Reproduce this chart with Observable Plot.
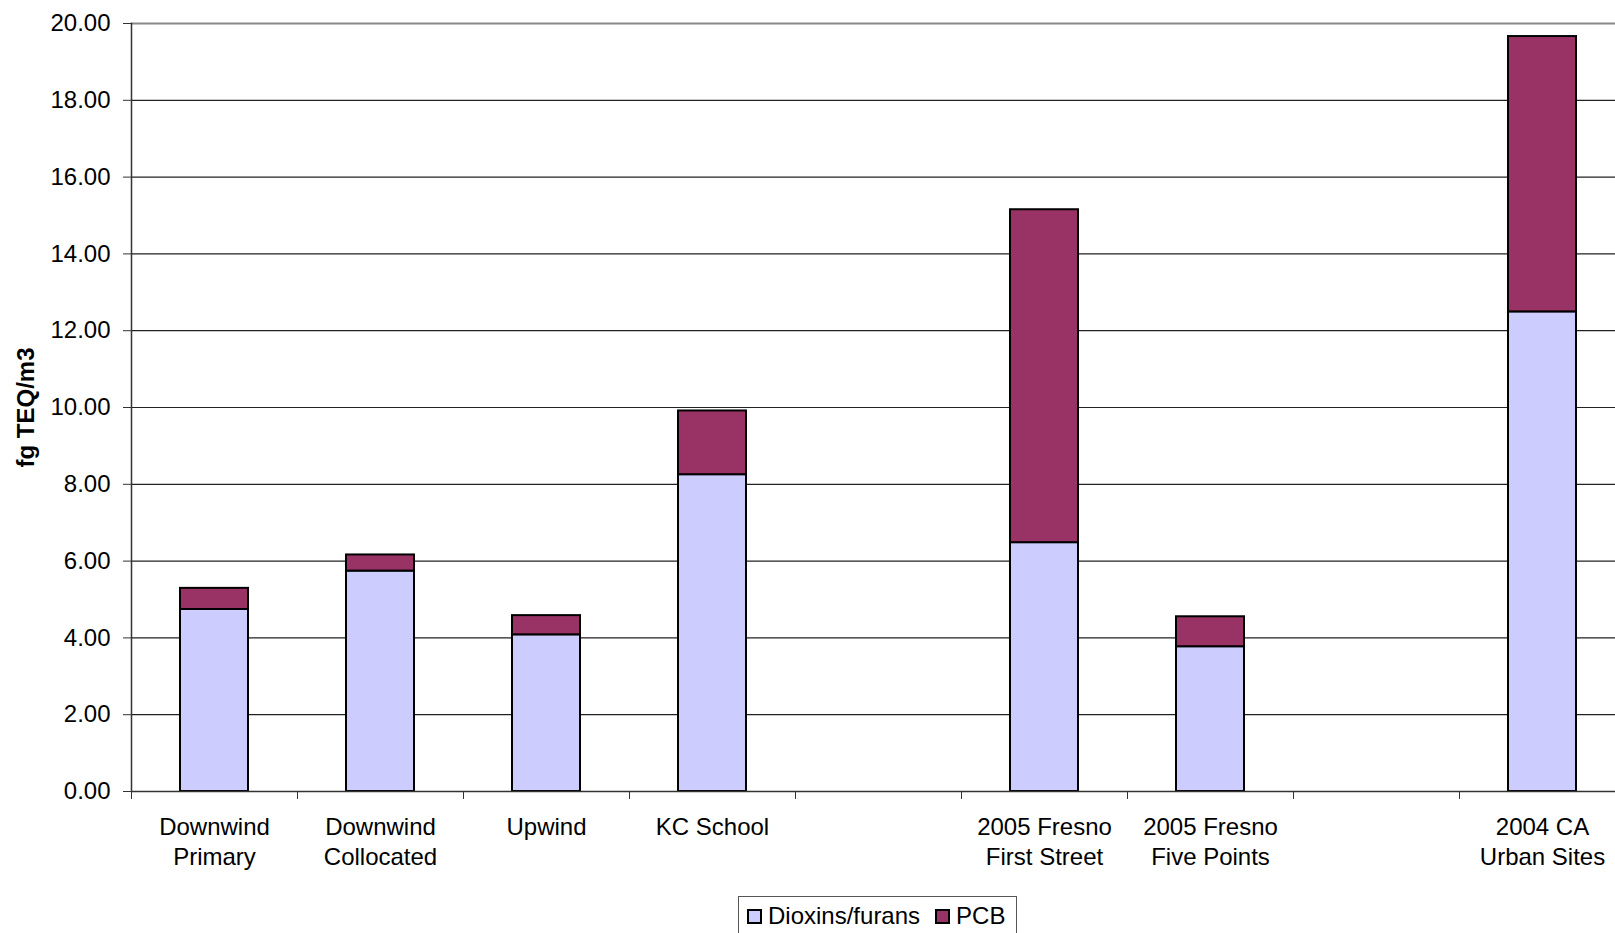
<!DOCTYPE html>
<html><head><meta charset="utf-8">
<script src="https://cdn.jsdelivr.net/npm/d3@7"></script>
<script src="https://cdn.jsdelivr.net/npm/@observablehq/plot@0.6"></script>
<style>
body{margin:0;background:#fff;overflow:hidden;font-family:"Liberation Sans",Arial,sans-serif}
#wrap{width:1615px;height:933px;overflow:hidden;position:relative}
#chart svg{max-width:none !important;display:block}
#legend{position:absolute;left:738px;top:896px;width:279px;height:42px;border:1px solid #555;box-sizing:border-box;font-size:24px;line-height:28px;color:#000;padding:5px 0 0 8px;white-space:nowrap}
.sw{width:11px;height:11px;border:2px solid #000;display:inline-block;vertical-align:baseline;margin-right:6px}
.item{display:inline;margin-right:15px}
</style></head>
<body><div id="wrap"><div id="chart"></div><div id="legend"></div></div>
<script>
const sites = ["Downwind\nPrimary", "Downwind\nCollocated", "Upwind", "KC School", "2005 Fresno\nFirst Street", "2005 Fresno\nFive Points", "2004 CA\nUrban Sites"];
const xDomain = ["Downwind\nPrimary", "Downwind\nCollocated", "Upwind", "KC School", "", "2005 Fresno\nFirst Street", "2005 Fresno\nFive Points", " ", "2004 CA\nUrban Sites"];
const dioxins = [4.74, 5.74, 4.08, 8.25, 6.48, 3.77, 12.49];
const pcb = [0.55, 0.42, 0.50, 1.66, 8.67, 0.78, 7.17];
const seriesNames = ["Dioxins/furans", "PCB"];
const seriesColors = ["#CCCCFF", "#993366"];
const yTicks = [0, 2, 4, 6, 8, 10, 12, 14, 16, 18, 20];
const yLabel = "fg TEQ/m3";

const rows = [];
sites.forEach((s, i) => {
  rows.push({site: s, series: seriesNames[0], value: dioxins[i]});
  rows.push({site: s, series: seriesNames[1], value: pcb[i]});
});

const width = 1625, height = 880, marginLeft = 131, marginRight = 0;
const step = (width - marginLeft - marginRight) / xDomain.length;

const chart = Plot.plot({
  width, height,
  marginLeft, marginRight, marginTop: 23, marginBottom: 89,
  style: {fontSize: "24px", fontFamily: "'Liberation Sans', Arial, sans-serif", color: "#000", background: "#fff"},
  x: {domain: xDomain, paddingInner: 0.59, paddingOuter: 0.295, align: 0.5},
  y: {domain: [0, 20]},
  color: {domain: seriesNames, range: seriesColors},
  marks: [
    Plot.gridY(yTicks, {stroke: "#222", strokeOpacity: 1, strokeWidth: 1.2}),
    Plot.ruleY([20], {stroke: "#888", strokeWidth: 2}),
    Plot.barY(rows, {x: "site", y: "value", fill: "series", stroke: "#000", strokeWidth: 2}),
    Plot.ruleY([0], {stroke: "#333", strokeWidth: 1.5}),
    Plot.frame({anchor: "left", stroke: "#333", strokeWidth: 1.5}),
    Plot.axisY({ticks: yTicks, tickSize: 8, tickPadding: 13, tickFormat: d => d.toFixed(2), label: null, stroke: "#333"}),
    Plot.axisX({tickSize: 8, tickFormat: () => "", dx: -step / 2, label: null, stroke: "#333"}),
    Plot.axisX({tickSize: 0, tickPadding: 22, lineHeight: 1.25, tickFormat: d => d, label: null}),
    Plot.text([yLabel], {frameAnchor: "left", textAnchor: "middle", rotate: -90, dx: -105, fontWeight: "bold", fontSize: 24, fill: "#000"})
  ]
});
document.getElementById("chart").appendChild(chart);

const legend = document.getElementById("legend");
seriesNames.forEach((n, i) => {
  const it = document.createElement("span");
  it.className = "item";
  const sw = document.createElement("span");
  sw.className = "sw";
  sw.style.background = seriesColors[i];
  it.appendChild(sw);
  it.appendChild(document.createTextNode(n));
  legend.appendChild(it);
});
</script></body></html>
